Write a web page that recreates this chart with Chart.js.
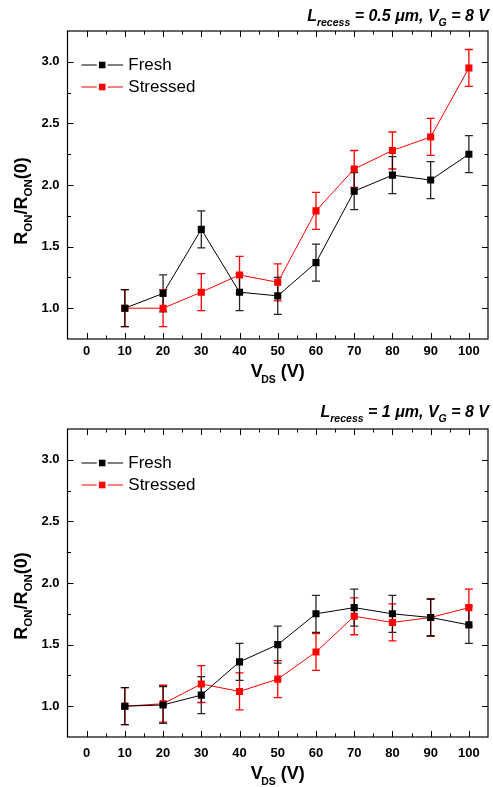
<!DOCTYPE html>
<html>
<head>
<meta charset="utf-8">
<script src="https://cdn.jsdelivr.net/npm/chart.js@4.4.0/dist/chart.umd.min.js"></script>
<style>
body{margin:0;background:#fff;overflow:hidden;}
.panel{position:absolute;left:0;width:493px;}
</style>
</head>
<body>
<div class="panel" style="top:0px"><canvas id="chartTop" width="493" height="399"></canvas></div>
<div class="panel" style="top:398px"><canvas id="chartBottom" width="493" height="389"></canvas></div>
<script>
let vds = [10, 20, 30, 40, 50, 60, 70, 80, 90, 100];
let xTicks = [0, 10, 20, 30, 40, 50, 60, 70, 80, 90, 100];
let yTicks = [1.0, 1.5, 2.0, 2.5, 3.0];

// L_recess = 0.5 um
let fresh05 = [1.00, 1.12, 1.64, 1.13, 1.10, 1.37, 1.95, 2.08, 2.04, 2.25];
let freshErr05 = [0.15, 0.15, 0.15, 0.15, 0.15, 0.15, 0.15, 0.15, 0.15, 0.15];
let stressed05 = [1.00, 1.00, 1.13, 1.27, 1.21, 1.79, 2.13, 2.28, 2.39, 2.95];
let stressedErr05 = [0.15, 0.15, 0.15, 0.15, 0.15, 0.15, 0.15, 0.15, 0.15, 0.15];

// L_recess = 1 um
let fresh1 = [1.00, 1.01, 1.09, 1.36, 1.50, 1.75, 1.80, 1.75, 1.72, 1.66];
let freshErr1 = [0.15, 0.15, 0.15, 0.15, 0.15, 0.15, 0.15, 0.15, 0.15, 0.15];
let stressed1 = [1.00, 1.02, 1.18, 1.12, 1.22, 1.44, 1.73, 1.68, 1.72, 1.80];
let stressedErr1 = [0.15, 0.15, 0.15, 0.15, 0.15, 0.15, 0.15, 0.15, 0.15, 0.15];

const FONT = '"Liberation Sans", Arial, sans-serif';

// parts: [text, font, dy, dx]
function drawRich(ctx, parts, x, y, align){
    let w = 0;
    parts.forEach(function(p){
        ctx.font = p[1];
        w += ctx.measureText(p[0]).width + (p[3] || 0);
    });
    let cx = x;
    if(align === 'right') cx = x - w;
    if(align === 'center') cx = x - w / 2;
    parts.forEach(function(p){
        ctx.font = p[1];
        cx += p[3] || 0;
        ctx.fillText(p[0], cx, y + p[2]);
        cx += ctx.measureText(p[0]).width;
    });
}

const errorBars = {
    id: 'errorBars',
    beforeDatasetsDraw(chart){
        const ctx = chart.ctx;
        const x = chart.scales.x, y = chart.scales.y;
        ctx.save();
        for(let d = chart.data.datasets.length - 1; d >= 0; d--){
            const ds = chart.data.datasets[d];
            ctx.strokeStyle = ds.borderColor;
            ctx.globalAlpha = d === 0 ? 0.85 : 1;
            ctx.lineWidth = 1.3;
            ds.data.forEach(function(p, i){
                const e = ds.errors[i];
                const px = x.getPixelForValue(p.x);
                const top = y.getPixelForValue(p.y + e);
                const bot = y.getPixelForValue(p.y - e);
                ctx.beginPath();
                ctx.moveTo(px, top); ctx.lineTo(px, bot);
                ctx.moveTo(px - 4, top); ctx.lineTo(px + 4, top);
                ctx.moveTo(px - 4, bot); ctx.lineTo(px + 4, bot);
                ctx.stroke();
            });
        }
        ctx.restore();
    }
};

function midpoints(vals){
    let out = [];
    for(let i = 0; i < vals.length - 1; i++) out.push((vals[i] + vals[i + 1]) / 2);
    return out;
}

const frameTicks = {
    id: 'frameTicks',
    afterDraw(chart){
        const ctx = chart.ctx, a = chart.chartArea;
        const x = chart.scales.x, y = chart.scales.y;
        ctx.save();
        ctx.strokeStyle = '#000';
        ctx.lineWidth = 1.2;
        ctx.strokeRect(a.left, a.top, a.right - a.left, a.bottom - a.top);
        ctx.lineWidth = 1;
        ctx.beginPath();
        function xt(v, len){
            const px = Math.round(x.getPixelForValue(v)) + 0.5;
            ctx.moveTo(px, a.bottom); ctx.lineTo(px, a.bottom - len);
            ctx.moveTo(px, a.top); ctx.lineTo(px, a.top + len);
        }
        function yt(v, len){
            const py = Math.round(y.getPixelForValue(v)) + 0.5;
            ctx.moveTo(a.left, py); ctx.lineTo(a.left + len, py);
            ctx.moveTo(a.right, py); ctx.lineTo(a.right - len, py);
        }
        xTicks.forEach(v => xt(v, 6));
        midpoints(xTicks).forEach(v => xt(v, 3.5));
        yTicks.forEach(v => yt(v, 6));
        midpoints(yTicks).forEach(v => yt(v, 3.5));
        ctx.stroke();
        ctx.restore();
    }
};

const textsAndLegend = {
    id: 'textsAndLegend',
    afterDraw(chart){
        const ctx = chart.ctx, a = chart.chartArea;
        const o = chart.options.plugins.textsAndLegend;
        ctx.save();
        ctx.fillStyle = '#000';
        ctx.textBaseline = 'alphabetic';

        // title
        const tm = 'bold italic 16px ' + FONT, ts = 'bold italic 10.5px ' + FONT;
        drawRich(ctx, [
            ['L', tm, 0], ['recess', ts, 5.5], [' = ' + o.recess + ' \u03bcm, V', tm, 0],
            ['G', ts, 5.5], [' = 8 V', tm, 0]
        ], 489, o.titleY, 'right');

        // x title
        const am = 'bold 18px ' + FONT, as = 'bold 10.5px ' + FONT;
        drawRich(ctx, [['V', am, 0], ['DS', as, 6, -1.5], [' (V)', am, 0]],
            (a.left + a.right) / 2, o.xTitleY, 'center');

        // y title
        ctx.save();
        ctx.translate(27.3, o.yTitleY);
        ctx.rotate(-Math.PI / 2);
        const ys = 'bold 11.5px ' + FONT;
        drawRich(ctx, [['R', am, 0], ['ON', ys, 4.5], ['/R', am, 0], ['ON', ys, 4.5], ['(0)', am, 0]],
            0, 0, 'center');
        ctx.restore();

        // legend
        chart.data.datasets.forEach(function(ds, i){
            const ly = a.top + 34 + i * 22;
            const mx = a.left + 34.7;
            ctx.strokeStyle = ds.borderColor;
            ctx.lineWidth = 1;
            ctx.beginPath();
            ctx.moveTo(a.left + 14, ly); ctx.lineTo(mx - 5.5, ly);
            ctx.moveTo(mx + 5.5, ly); ctx.lineTo(a.left + 55.5, ly);
            ctx.stroke();
            ctx.fillStyle = ds.borderColor;
            ctx.fillRect(mx - 3.3, ly - 3.3, 6.6, 6.6);
            ctx.fillStyle = '#000';
            ctx.font = '17px ' + FONT;
            ctx.textBaseline = 'middle';
            ctx.fillText(ds.label, a.left + 60.8, ly);
            ctx.textBaseline = 'alphabetic';
        });
        ctx.restore();
    }
};

function makeChart(id, fresh, freshErr, stressed, stressedErr, o){
    const canvas = document.getElementById(id);
    const tickFont = {family: FONT, size: 13, weight: 'bold'};
    return new Chart(canvas, {
        type: 'line',
        data: {
            datasets: [{
                label: 'Fresh',
                data: vds.map((v, i) => ({x: v, y: fresh[i]})),
                errors: freshErr,
                borderColor: '#000000',
                backgroundColor: '#000000',
                borderWidth: 1,
                pointStyle: 'rect',
                pointRadius: 5,
                pointBorderWidth: 0
            }, {
                label: 'Stressed',
                data: vds.map((v, i) => ({x: v, y: stressed[i]})),
                errors: stressedErr,
                borderColor: '#ff0000',
                backgroundColor: '#ff0000',
                borderWidth: 1,
                pointStyle: 'rect',
                pointRadius: 5,
                pointBorderWidth: 0
            }]
        },
        options: {
            responsive: false,
            animation: false,
            layout: {padding: {top: 31, right: 5, left: 0, bottom: 0}},
            plugins: {
                legend: {display: false},
                tooltip: {enabled: false},
                textsAndLegend: o
            },
            scales: {
                x: {
                    type: 'linear',
                    min: -5,
                    max: 105,
                    afterBuildTicks: s => { s.ticks = xTicks.map(v => ({value: v})); },
                    afterFit: s => { s.height = canvas.height - 339; },
                    grid: {display: false, drawTicks: false},
                    border: {display: false},
                    ticks: {font: tickFont, color: '#000', padding: o.xTickPad, autoSkip: false, maxRotation: 0,
                        callback: v => String(v)}
                },
                y: {
                    min: 0.75,
                    max: 3.25,
                    afterBuildTicks: s => { s.ticks = yTicks.map(v => ({value: v})); },
                    afterFit: s => { s.width = 67.5; },
                    grid: {display: false, drawTicks: false},
                    border: {display: false},
                    ticks: {font: tickFont, color: '#000', padding: 8, callback: v => v.toFixed(1)}
                }
            }
        },
        plugins: [errorBars, frameTicks, textsAndLegend]
    });
}

makeChart('chartTop', fresh05, freshErr05, stressed05, stressedErr05,
    {recess: '0.5', titleY: 20.7, xTitleY: 376.7, yTitleY: 201, xTickPad: 5});
makeChart('chartBottom', fresh1, freshErr1, stressed1, stressedErr1,
    {recess: '1', titleY: 18.7, xTitleY: 381, yTitleY: 198, xTickPad: 9});
</script>
</body>
</html>
